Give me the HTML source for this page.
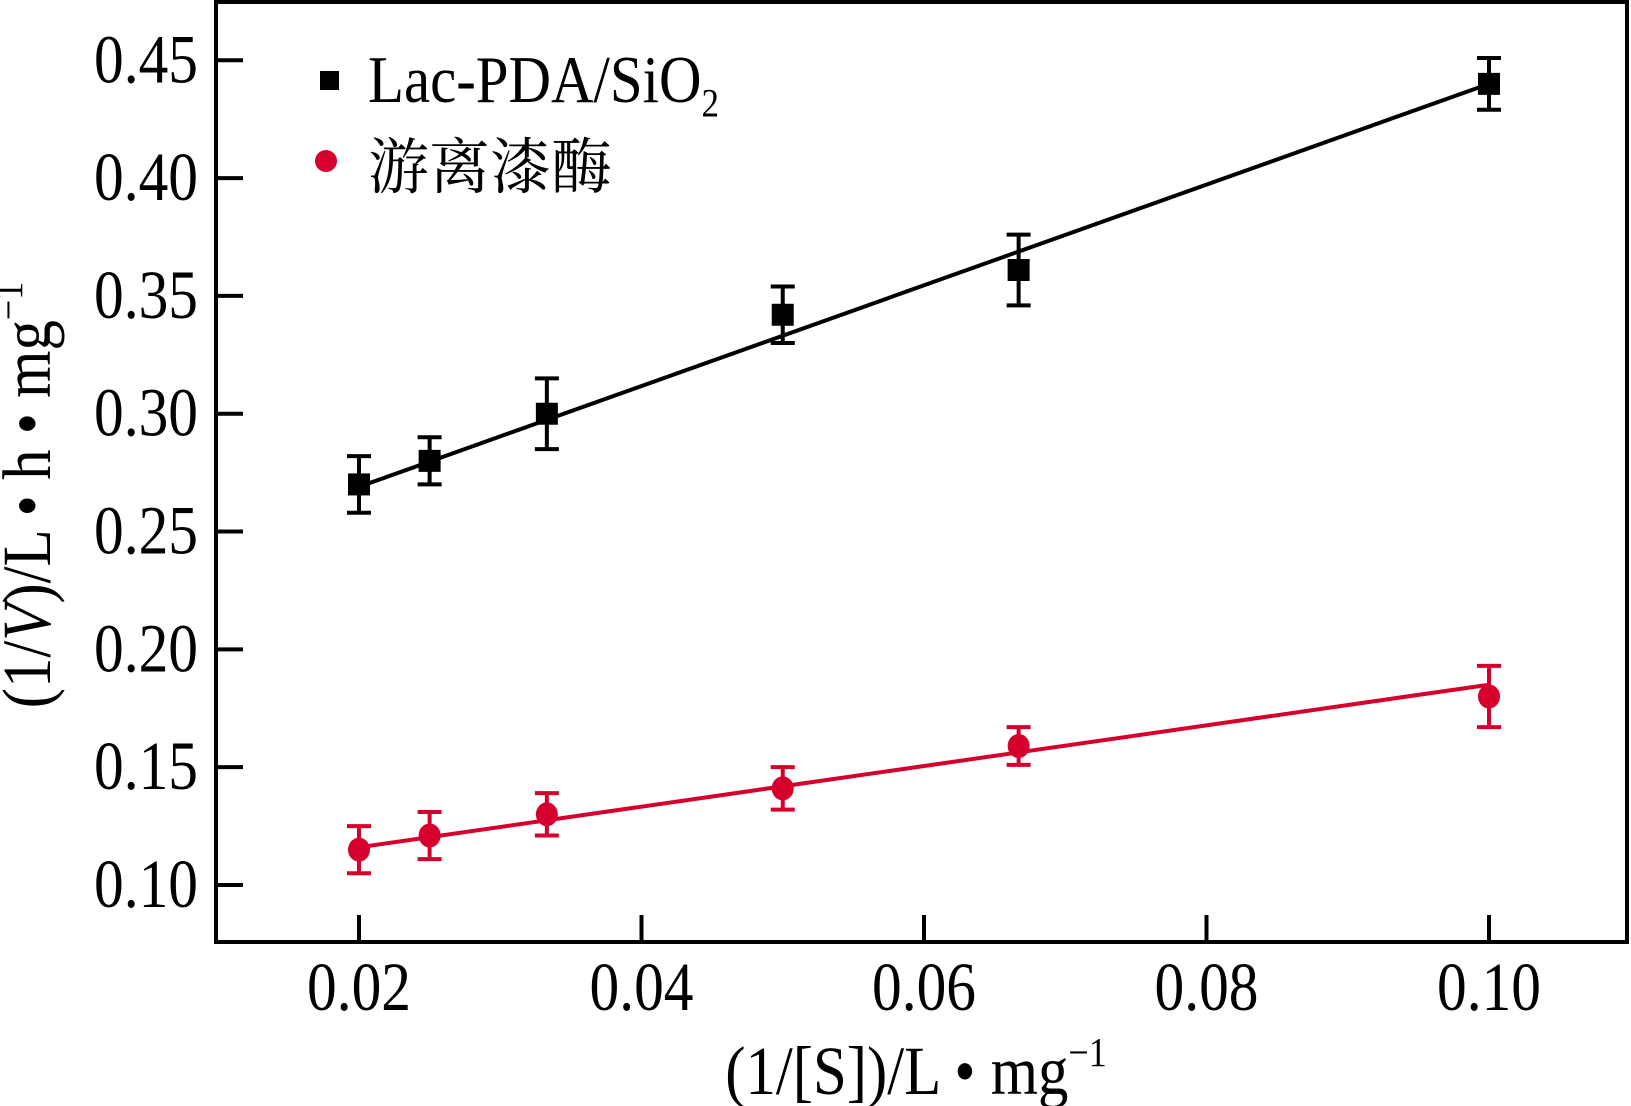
<!DOCTYPE html>
<html><head><meta charset="utf-8">
<style>
html,body{margin:0;padding:0;background:#fff;}
svg{display:block;}
text{font-family:"Liberation Serif","Noto Serif CJK SC",serif;fill:#000;}
</style></head>
<body>
<svg id="chart" width="1631" height="1106" viewBox="0 0 1631 1106" xmlns="http://www.w3.org/2000/svg">
<g id="axes"></g>
<g id="series"></g>
<g id="legend">
  <rect x="320" y="71" width="19" height="19" fill="#000"/>
  <text transform="translate(368,102) scale(0.92,1.05)" font-size="64">Lac-PDA/SiO<tspan font-size="38" dy="14">2</tspan></text>
  <circle cx="326" cy="161" r="11" fill="#d5002c"/>
  <text x="368" y="188" font-size="61" font-family="Noto Serif CJK SC, serif">游离漆酶</text>
</g>
<text transform="translate(916,1094) scale(0.95,1.08)" font-size="64" text-anchor="middle">(1/[S])/L • mg<tspan font-size="38" dy="-26">−1</tspan></text>
<text transform="translate(50,495) rotate(-90) scale(0.95,1.08)" font-size="64" text-anchor="middle">(1/<tspan font-style="italic">V</tspan>)/L • h • mg<tspan font-size="38" dy="-26">−1</tspan></text>
</svg>
<script>
const xTicks=[0.02,0.04,0.06,0.08,0.10];
const xTickLabels=["0.02","0.04","0.06","0.08","0.10"];
const yTicks=[0.10,0.15,0.20,0.25,0.30,0.35,0.40,0.45];
const yTickLabels=["0.10","0.15","0.20","0.25","0.30","0.35","0.40","0.45"];
const xValues=[0.02,0.025,0.0333,0.05,0.0667,0.10];
const lacValues=[0.270,0.280,0.300,0.342,0.361,0.440];
const lacErrors=[0.012,0.010,0.015,0.012,0.015,0.011];
const lacFit=[0.269,0.440];
const freeValues=[0.115,0.121,0.130,0.141,0.159,0.180];
const freeErrors=[0.010,0.010,0.009,0.009,0.008,0.013];
const freeFit=[0.116,0.185];
const fitX=[0.02,0.10];

const NS="http://www.w3.org/2000/svg";
const L=216,R=1627,T=2,B=942;
function sx(v){return 359+(v-0.02)*(1489-359)/0.08;}
function sy(v){return 885-(v-0.10)*(885-60.3)/0.35;}
function mk(tag,attrs,parent){const e=document.createElementNS(NS,tag);for(const k in attrs)e.setAttribute(k,attrs[k]);parent.appendChild(e);return e;}
const axes=document.getElementById('axes');
const frame=mk('rect',{x:L,y:T,width:R-L,height:B-T,fill:'none',stroke:'#000','stroke-width':4},axes);


xTicks.forEach((v,i)=>{
  const t=mk('line',{x1:sx(v),x2:sx(v),y1:B,y2:B-27,stroke:'#000','stroke-width':4},axes);
  
  
  const tx=mk('text',{transform:`translate(${sx(v)},1010) scale(0.9,1.05)`,'font-size':66,'text-anchor':'middle'},axes);
  tx.textContent=xTickLabels[i];
  
  
});
yTicks.forEach((v,i)=>{
  const t=mk('line',{x1:L,x2:L+27,y1:sy(v),y2:sy(v),stroke:'#000','stroke-width':4},axes);
  
  
  const tx=mk('text',{transform:`translate(198,${sy(v)+22}) scale(0.9,1.05)`,'font-size':66,'text-anchor':'end'},axes);
  tx.textContent=yTickLabels[i];
  
  
});
const series=document.getElementById('series');
function drawSeries(vals,errs,fit,color,shape,name){
  const g=mk('g',{},series);
  
  
  const ln=mk('line',{x1:sx(fitX[0]),y1:sy(fit[0]),x2:sx(fitX[1]),y2:sy(fit[1]),stroke:color,'stroke-width':4},g);
  
  
  vals.forEach((v,i)=>{
    const x=sx(xValues[i]),yt=sy(v+errs[i]),yb=sy(v-errs[i]);
    const eb=mk('path',{d:`M${x},${yt}V${yb}M${x-12},${yt}H${x+12}M${x-12},${yb}H${x+12}`,stroke:color,'stroke-width':4,fill:'none'},g);
    
    
    let m;
    if(shape==='square') m=mk('rect',{x:x-11,y:sy(v)-11,width:22,height:22,fill:color},g);
    else m=mk('ellipse',{cx:x,cy:sy(v),rx:11,ry:12,fill:color},g);
    
    
  });
}
drawSeries(lacValues,lacErrors,lacFit,'#000','square','lac-pda');
drawSeries(freeValues,freeErrors,freeFit,'#d5002c','circle','free-laccase');
</script>
</body></html>
